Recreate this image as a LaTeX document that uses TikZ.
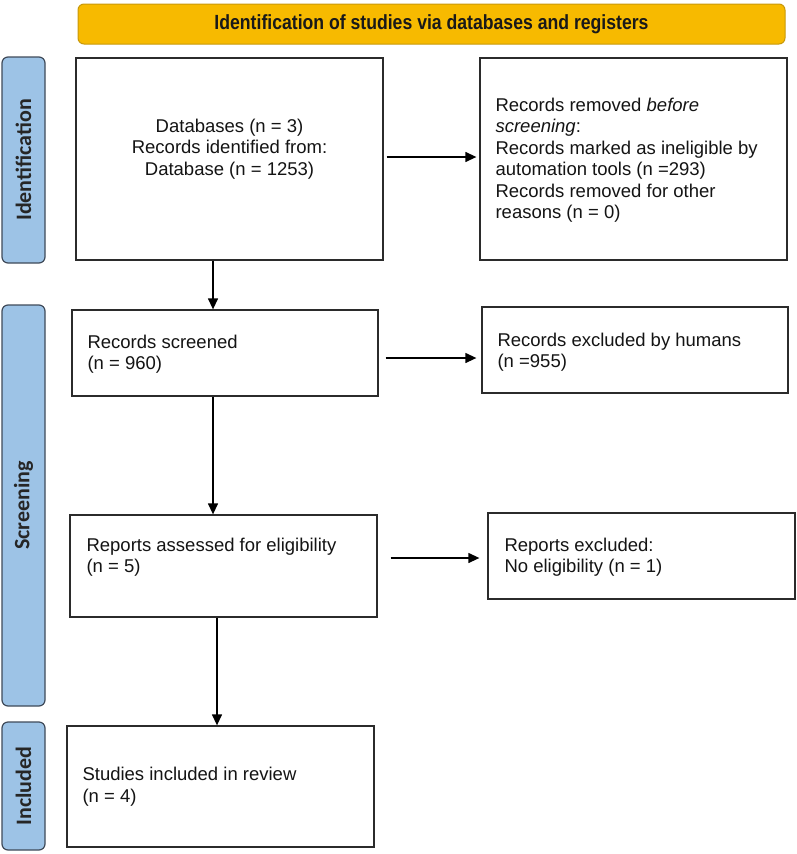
\documentclass[tikz,border=0pt]{standalone}
\usepackage{fontspec}
\setmainfont{Liberation Sans}
\newfontfamily\bannerfont[FakeStretch=0.86]{Liberation Sans}
\newfontfamily\sidefont{Carlito}
\usetikzlibrary{arrows.meta}
\definecolor{bannerfill}{HTML}{F7BA00}
\definecolor{bannerline}{HTML}{C8980A}
\definecolor{sidefill}{HTML}{9DC3E6}
\definecolor{sideline}{HTML}{3F4A59}
\definecolor{boxline}{HTML}{2B2B2B}
\tikzset{
  flowbox/.style={draw=boxline, line width=1.3pt, fill=white, inner sep=0pt},
  bodytext/.style={font=\fontsize{18.5}{21.5}\selectfont, align=left, inner sep=0pt, text=black!92},
  sidelabel/.style={draw=sideline, line width=1.2pt, fill=sidefill, rounded corners=6pt,
     minimum width=43pt, inner sep=0pt},
  sidetext/.style={rotate=90, font=\sidefont\bfseries\fontsize{22}{24}\selectfont, text=black!85, inner sep=0pt},
  banner/.style={draw=bannerline, line width=1pt, fill=bannerfill, rounded corners=6pt,
     minimum width=707pt, minimum height=40pt, inner sep=0pt,
     font=\bannerfont\bfseries\fontsize{20.5}{22}\selectfont, text=black!90},
  arr/.style={draw=black, line width=1.3pt, -{Triangle[length=11pt,width=10pt]}}
}
\begin{document}
\begin{tikzpicture}[x=1pt,y=-1pt]
\useasboundingbox (0,0) rectangle (797,854);
% banner
\node[banner] (ban) at (431.5,24) {Identification of studies via databases and registers};
% side labels
\node[sidelabel, minimum height=206pt] (lid) at (23.5,160) {};
\node[sidetext] (lidt) at (lid.center) {Identification};
\node[sidelabel, minimum height=401pt] (lscr) at (23.5,505.5) {};
\node[sidetext] (lscrt) at (lscr.center) {Screening};
\node[sidelabel, minimum height=128pt] (linc) at (23.5,786) {};
\node[sidetext] (linct) at (linc.center) {Included};
% boxes
\node[flowbox, minimum width=307pt, minimum height=202pt] (db) at (229.5,159) {};
\node[flowbox, minimum width=307pt, minimum height=202pt] (rm) at (633.5,159) {};
\node[flowbox, minimum width=306pt, minimum height=86pt] (scr) at (225,353) {};
\node[flowbox, minimum width=306pt, minimum height=86pt] (exh) at (635,350) {};
\node[flowbox, minimum width=307pt, minimum height=102pt] (rep) at (223.5,566) {};
\node[flowbox, minimum width=307pt, minimum height=86pt] (rex) at (641.5,556) {};
\node[flowbox, minimum width=307pt, minimum height=121pt] (inc) at (220.5,786.5) {};
% texts
\node[bodytext, align=center] (dbt) at ([yshift=10pt]db.center) {Databases (n = 3)\\Records identified from:\\Database (n = 1253)};
\node[bodytext, anchor=west] (rmt) at ([xshift=16pt,yshift=-1pt]rm.west) {Records removed \textit{before}\\\textit{screening}:\\Records marked as ineligible by\\automation tools (n =293)\\Records removed for other\\reasons (n = 0)};
\node[bodytext, anchor=west] (scrt) at ([xshift=16pt,yshift=-1pt]scr.west) {Records screened\\(n = 960)};
\node[bodytext, anchor=west] (exht) at ([xshift=16pt,yshift=-2pt]exh.west) {Records excluded by humans\\(n =955)};
\node[bodytext, anchor=west] (rept) at ([xshift=17pt,yshift=9pt]rep.west) {Reports assessed for eligibility\\(n = 5)};
\node[bodytext, anchor=west] (rext) at ([xshift=17pt,yshift=-1pt]rex.west) {Reports excluded:\\No eligibility (n = 1)};
\node[bodytext, anchor=west] (inct) at ([xshift=16pt,yshift=0pt]inc.west) {Studies included in review\\(n = 4)};
% connectors
\draw[arr] ([xshift=-16.5pt]db.south) -- ([xshift=-16.5pt]db.south |- scr.north);
\draw[arr] ([xshift=3pt,yshift=2pt]db.east) -- ([xshift=-3pt,yshift=2pt]db.east -| rm.west);
\draw[arr] ([xshift=7pt,yshift=-5pt]scr.east) -- ([xshift=-5pt,yshift=-5pt]scr.east -| exh.west);
\draw[arr] ([xshift=-12pt]scr.south) -- ([xshift=-12pt]scr.south |- rep.north);
\draw[arr] ([xshift=13pt,yshift=8pt]rep.east) -- ([xshift=-8pt,yshift=8pt]rep.east -| rex.west);
\draw[arr] ([xshift=-6.5pt]rep.south) -- ([xshift=-6.5pt]rep.south |- inc.north);
\end{tikzpicture}
\end{document}
